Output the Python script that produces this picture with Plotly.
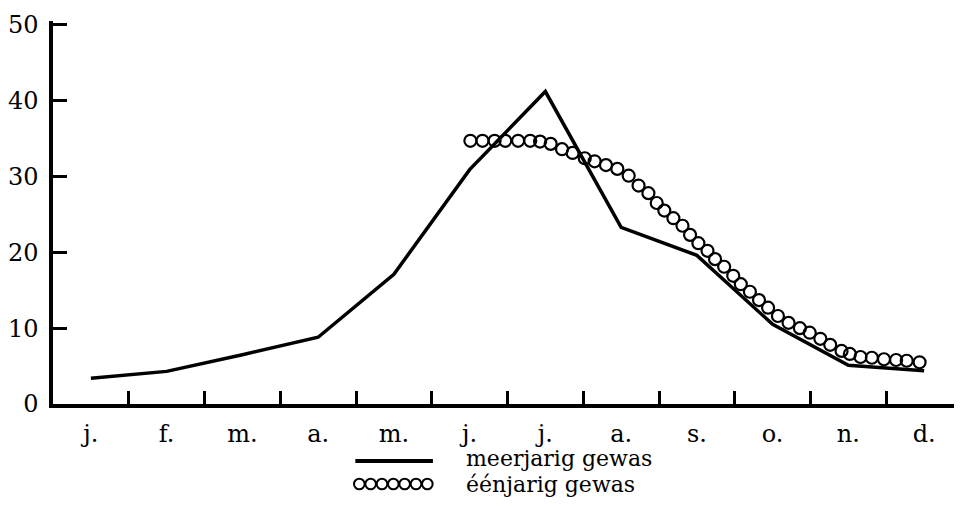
import plotly.graph_objects as go

# ---- data ----
months = ["j.", "f.", "m.", "a.", "m.", "j.", "j.", "a.", "s.", "o.", "n.", "d."]
month_pos = [0.5, 1.5, 2.5, 3.5, 4.5, 5.5, 6.5, 7.5, 8.5, 9.5, 10.5, 11.5]
month_bounds = [1, 2, 3, 4, 5, 6, 7, 8, 9, 10, 11, 12]

meerjarig = [3.4, 4.3, 6.5, 8.8, 17.1, 30.9, 41.2, 23.3, 19.6, 10.5, 5.1, 4.4]

eenjarig_x = [5.51, 5.67, 5.83, 5.97, 6.14, 6.30, 6.43, 6.57, 6.72, 6.86,
              7.02, 7.15, 7.30, 7.45, 7.60, 7.73, 7.86, 7.97, 8.07, 8.19,
              8.31, 8.41, 8.52, 8.64, 8.74, 8.86, 8.98, 9.08, 9.20, 9.32,
              9.44, 9.57, 9.71, 9.86, 9.99, 10.13, 10.26, 10.41, 10.52, 10.66,
              10.81, 10.97, 11.13, 11.27, 11.44]
eenjarig_y = [34.7, 34.7, 34.7, 34.7, 34.7, 34.7, 34.6, 34.3, 33.6, 33.1,
              32.4, 32.0, 31.5, 31.0, 30.1, 28.8, 27.8, 26.5, 25.5, 24.5,
              23.5, 22.3, 21.2, 20.2, 19.1, 18.1, 16.9, 15.8, 14.8, 13.7,
              12.7, 11.6, 10.7, 10.0, 9.4, 8.6, 7.8, 7.0, 6.6, 6.2,
              6.1, 5.9, 5.8, 5.7, 5.5]

y_ticks = [0, 10, 20, 30, 40, 50]
legend_names = ["meerjarig gewas", "éénjarig gewas"]

FONT = "DejaVu Serif"

fig = go.Figure()
fig.add_trace(go.Scatter(
    x=month_pos, y=meerjarig, mode="lines", name=legend_names[0],
    line=dict(color="black", width=3.5), showlegend=False))
fig.add_trace(go.Scatter(
    x=eenjarig_x, y=eenjarig_y, mode="markers", name=legend_names[1],
    marker=dict(symbol="circle-open", size=12, color="black",
                line=dict(width=2.2)), showlegend=False))

# ---- hand-made legend (below the axis); page pixels -> paper coords ----
OFF = 8                 # page body margin
L, W = 48, 914          # plot left (page px) and width (px)
T0, H = 404, 383        # y=0 page pixel and plot height (px)

def px(xp):
    return (xp - L) / W

def py(yp):
    return (T0 - yp) / H

shapes = [dict(type="line", xref="paper", yref="paper",
               x0=px(352), x1=px(430), y0=py(461), y1=py(461),
               line=dict(color="black", width=4))]
for k in range(7):
    cx = 356 + 11.4 * k
    shapes.append(dict(type="circle", xref="paper", yref="paper",
                       xsizemode="pixel", ysizemode="pixel",
                       xanchor=px(cx), yanchor=py(484),
                       x0=-5.3, x1=5.3, y0=-5.3, y1=5.3,
                       line=dict(color="black", width=2)))

annotations = [
    dict(text=legend_names[0], xref="paper", yref="paper", x=px(461), y=py(458),
         xanchor="left", yanchor="middle", showarrow=False,
         font=dict(family=FONT, size=22, color="black")),
    dict(text=legend_names[1], xref="paper", yref="paper", x=px(461), y=py(484.5),
         xanchor="left", yanchor="middle", showarrow=False,
         font=dict(family=FONT, size=22, color="black")),
]

fig.update_layout(
    width=962 - OFF, height=506 - OFF,
    margin=dict(l=L - OFF, r=0, t=21 - OFF, b=102),
    plot_bgcolor="white", paper_bgcolor="white",
    font=dict(family=FONT, size=24, color="black"),
    shapes=shapes, annotations=annotations,
    xaxis=dict(range=[0, 12], tickmode="array", tickvals=month_pos, ticktext=months,
               ticks="", showgrid=False, zeroline=False,
               showline=True, linecolor="black", linewidth=3.5,
               ticklabelstandoff=5,
               minor=dict(tickmode="array", tickvals=month_bounds, ticks="inside",
                          ticklen=13, tickwidth=3, tickcolor="black", showgrid=False)),
    yaxis=dict(range=[0, 50.5], tickmode="array", tickvals=y_ticks,
               ticks="inside", ticklen=14, tickwidth=3, tickcolor="black",
               showgrid=False, zeroline=False,
               showline=True, linecolor="black", linewidth=3.5,
               ticklabelstandoff=6),
)

fig.write_html("out.html")
